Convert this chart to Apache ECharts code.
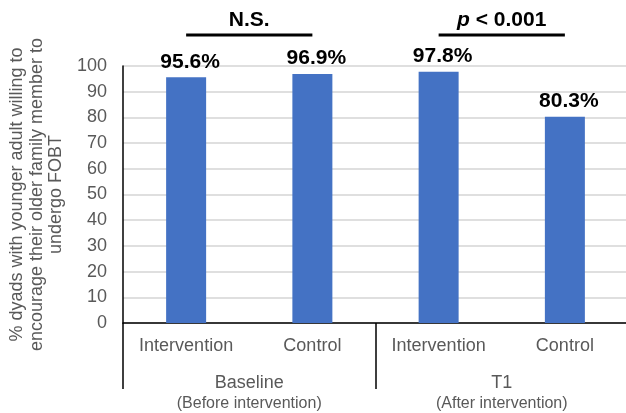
<!DOCTYPE html>
<html>
<head>
<meta charset="utf-8">
<script src="https://cdn.jsdelivr.net/npm/echarts@6/dist/echarts.min.js"></script>
<style>html,body{margin:0;padding:0;background:#fff}#c{width:626px;height:413px}</style>
</head>
<body>
<div id="c"></div>
<script>
var categories = ['Intervention', 'Control', 'Intervention', 'Control'];
var groups = ['Baseline', 'T1'];
var groupSubs = ['(Before intervention)', '(After intervention)'];
var values = [95.6, 96.9, 97.8, 80.3];
var yTitle = '% dyads with younger adult willing to\nencourage their older family member to\nundergo FOBT';
var sigLabels = ['N.S.', 'p < 0.001'];
var sigPairs = [[0, 1], [2, 3]];

var chart = echarts.init(document.getElementById('c'));
var font = '"Liberation Sans", Arial, sans-serif';
chart.setOption({
  animation: false,
  textStyle: { fontFamily: font },
  grid: { left: 123, top: 66, bottom: 90, width: 505, containLabel: false, outerBoundsMode: 'none' },
  xAxis: [
    {
      type: 'category', data: categories, position: 'bottom',
      axisLine: { show: true, lineStyle: { color: '#000', width: 1.5 } },
      axisTick: { show: false },
      axisLabel: { fontSize: 18, color: '#595959', margin: 14, fontFamily: font, interval: 0 }
    },
    {
      type: 'category', data: groups, position: 'bottom',
      axisLine: { show: false },
      axisTick: { show: true, length: 66, interval: 0, lineStyle: { color: '#000', width: 1.5 } },
      axisLabel: {
        interval: 0, margin: 49, fontFamily: font,
        formatter: function (v, i) { return '{a|' + v + '}\n{b|' + groupSubs[i] + '}'; },
        rich: {
          a: { fontSize: 18, color: '#595959', fontFamily: font, lineHeight: 22 },
          b: { fontSize: 16, color: '#595959', fontFamily: font, lineHeight: 19 }
        }
      }
    }
  ],
  yAxis: {
    type: 'value', min: 0, max: 100, interval: 10,
    name: yTitle, nameLocation: 'middle', nameGap: 50, nameRotate: 90,
    nameTextStyle: { fontSize: 18, color: '#595959', fontFamily: font, lineHeight: 19.5 },
    axisLine: { show: true, lineStyle: { color: '#000', width: 1.5 } },
    axisTick: { show: false },
    axisLabel: { fontSize: 18, color: '#595959', margin: 16, fontFamily: font },
    splitLine: { show: true, lineStyle: { color: '#d4d4d4', width: 1.5 } }
  },
  series: [{
    type: 'bar', data: values, xAxisIndex: 0, barWidth: 40,
    itemStyle: { color: '#4472C4' },
    label: {
      show: true, position: 'top', distance: 5, offset: [4, 0],
      formatter: '{c}%', fontSize: 21, fontWeight: 'bold', color: '#000', fontFamily: font
    }
  }]
});

var graphics = [];
sigPairs.forEach(function (p, k) {
  var x1 = chart.convertToPixel({ xAxisIndex: 0 }, p[0]);
  var x2 = chart.convertToPixel({ xAxisIndex: 0 }, p[1]);
  graphics.push({ type: 'line', shape: { x1: x1, y1: 35, x2: x2, y2: 35 }, style: { stroke: '#000', lineWidth: 3 } });
  var mid = (x1 + x2) / 2;
  if (k === 0) {
    graphics.push({ type: 'text', x: mid, y: 20, style: { text: sigLabels[0], font: 'bold 21px ' + font, fill: '#000', align: 'center', verticalAlign: 'middle' } });
  } else {
    var parts = sigLabels[1].split(' ');
    graphics.push({ type: 'text', x: mid, y: 20, style: {
      text: '{i|' + parts[0] + '}{n| ' + parts.slice(1).join(' ') + '}', align: 'center', verticalAlign: 'middle',
      rich: {
        i: { fontSize: 21, fontWeight: 'bold', fontStyle: 'italic', fontFamily: font, fill: '#000' },
        n: { fontSize: 21, fontWeight: 'bold', fontFamily: font, fill: '#000' }
      }
    } });
  }
});
chart.setOption({ graphic: graphics });
</script>
</body>
</html>
